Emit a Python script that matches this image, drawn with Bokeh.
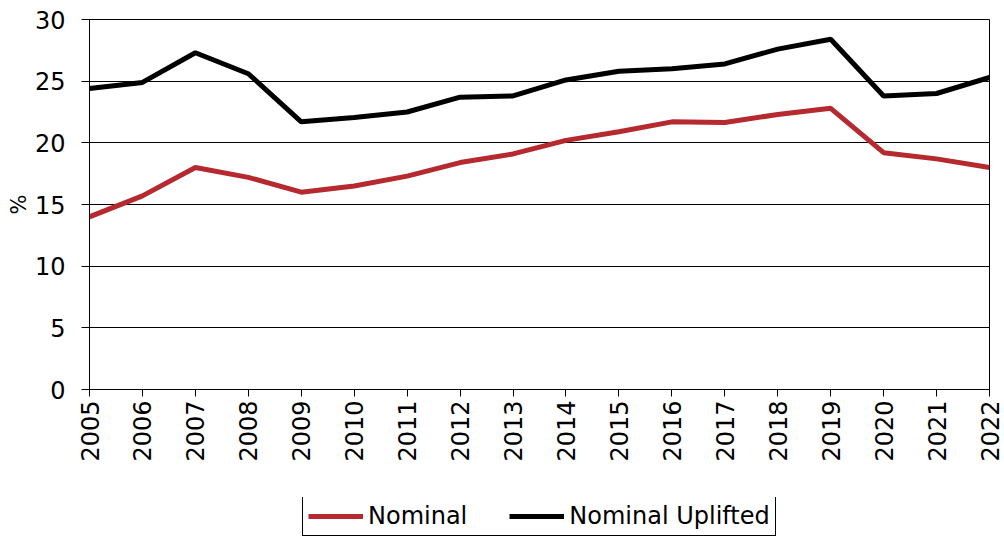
import math
from bokeh.plotting import figure
from bokeh.layouts import column
from bokeh.models import Legend, LegendItem, FixedTicker, Range1d
from bokeh.embed import file_html
from bokeh.resources import INLINE

years = list(range(2005, 2023))
nominal = [14.0, 15.7, 18.0, 17.2, 16.0, 16.5, 17.3, 18.4, 19.1, 20.2,
           20.9, 21.7, 21.65, 22.3, 22.8, 19.2, 18.7, 18.0]
nominal_uplifted = [24.4, 24.9, 27.3, 25.6, 21.7, 22.05, 22.5, 23.7, 23.8, 25.1,
                    25.8, 26.0, 26.4, 27.6, 28.4, 23.8, 24.0, 25.3]
y_ticks = [0, 5, 10, 15, 20, 25, 30]
series_names = ["Nominal", "Nominal Uplifted"]
series_colors = ["#B5292F", "#000000"]

FONT = "DejaVu Sans"

p = figure(width=1004, height=497, output_backend="svg", toolbar_location=None,
           x_range=Range1d(2005, 2022), y_range=Range1d(0, 30),
           min_border_left=89, min_border_right=15, min_border_top=19,
           min_border_bottom=108)

r1 = p.line(years, nominal, line_color=series_colors[0], line_width=5)
r2 = p.line(years, nominal_uplifted, line_color=series_colors[1], line_width=5)

p.outline_line_color = "black"
p.outline_line_width = 1
p.xgrid.visible = False
p.ygrid.grid_line_color = "black"
p.ygrid.grid_line_width = 1
p.ygrid.ticker = FixedTicker(ticks=y_ticks)

p.yaxis.ticker = FixedTicker(ticks=y_ticks)
p.xaxis.ticker = FixedTicker(ticks=years)
for ax in (p.xaxis[0], p.yaxis[0]):
    ax.axis_line_color = "black"
    ax.major_tick_line_color = "black"
    ax.minor_tick_line_color = None
    ax.major_label_text_font = FONT
    ax.major_label_text_font_size = "24px"
    ax.major_label_text_color = "black"
    ax.major_tick_in = 0

p.xaxis.major_tick_out = 7
p.yaxis.major_tick_out = 8
p.xaxis.major_label_orientation = math.pi / 2
p.xaxis.major_label_standoff = 4
p.yaxis.major_label_standoff = 16
p.yaxis.axis_label = "%"
p.yaxis.axis_label_text_font = FONT
p.yaxis.axis_label_text_font_size = "21px"
p.yaxis.axis_label_text_font_style = "normal"
p.yaxis.axis_label_text_color = "black"
p.yaxis.axis_label_standoff = 1

# legend strip below the chart
pl = figure(width=1004, height=39, output_backend="svg", toolbar_location=None,
            x_axis_type=None, y_axis_type=None,
            x_range=Range1d(2005, 2022), y_range=Range1d(0, 30),
            min_border_left=0, min_border_right=0, min_border_top=0,
            min_border_bottom=0)
pl.outline_line_color = None
pl.grid.visible = False
l1 = pl.line(years, nominal, line_color=series_colors[0], line_width=5, visible=False)
l2 = pl.line(years, nominal_uplifted, line_color=series_colors[1], line_width=5, visible=False)

legend = Legend(items=[LegendItem(label=series_names[0], renderers=[l1]),
                       LegendItem(label=series_names[1], renderers=[l2])],
                orientation="horizontal", location=(213, 0), margin=0,
                label_text_font=FONT, label_text_font_size="24px",
                label_text_color="black",
                glyph_width=55, glyph_height=20, label_standoff=5,
                spacing=42, padding=5, border_line_color="black",
                border_line_width=1, border_line_alpha=1,
                background_fill_alpha=1)
pl.add_layout(legend, "center")

layout = column(p, pl, spacing=0)
open("out.html", "w").write(file_html(layout, INLINE))
